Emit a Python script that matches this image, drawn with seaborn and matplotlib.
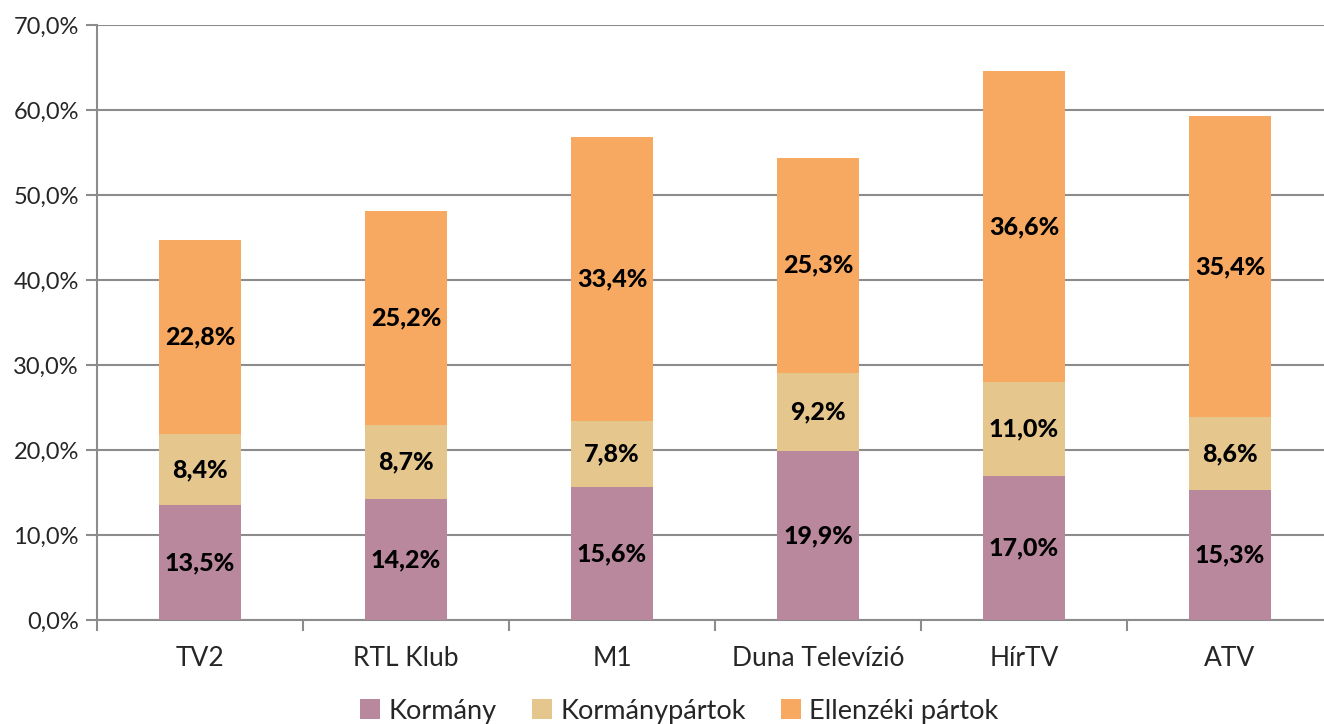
import matplotlib
matplotlib.use("Agg")
import matplotlib.pyplot as plt
import seaborn as sns
import pandas as pd
import numpy as np
from matplotlib.patches import Patch
from matplotlib.ticker import FuncFormatter, FixedLocator

categories = ["TV2", "RTL Klub", "M1", "Duna Televízió", "HírTV", "ATV"]
kormany = [13.5, 14.2, 15.6, 19.9, 17.0, 15.3]
kormanypartok = [8.4, 8.7, 7.8, 9.2, 11.0, 8.6]
ellenzeki = [22.8, 25.2, 33.4, 25.3, 36.6, 35.4]
series_names = ["Kormány", "Kormánypártok", "Ellenzéki pártok"]
colors = ["#BA889C", "#E5C68D", "#F7A961"]

sns.set_style("white")
plt.rcParams['font.family'] = ['Lato', 'DejaVu Sans']

df = pd.DataFrame({"cat": categories, "k": kormany, "kp": kormanypartok, "e": ellenzeki})
df["c1"] = df["k"]
df["c2"] = df["k"] + df["kp"]
df["c3"] = df["c2"] + df["e"]

fig = plt.figure(figsize=(13.24, 7.24), dpi=100)
ax = fig.add_axes([97/1324, 1-620/724, 1236/1324, 595/724])

for col, color in zip(["c3", "c2", "c1"], colors[::-1]):
    sns.barplot(data=df, x="cat", y=col, color=color, width=0.4, ax=ax,
                saturation=1, linewidth=0, zorder=3)

ax.set_ylim(0, 70)
ax.set_xlim(-0.5, 5.5)
ax.set_yticks(np.arange(0, 71, 10))
ax.yaxis.set_major_formatter(FuncFormatter(lambda v, p: f"{v:.1f}%".replace(".", ",")))
ax.grid(axis="y", color="#8c8c8c", linewidth=1.5, zorder=0)
ax.set_axisbelow(True)
for s in ["top", "right"]:
    ax.spines[s].set_visible(False)
for s in ["left", "bottom"]:
    ax.spines[s].set_color("#8c8c8c")
    ax.spines[s].set_linewidth(1.5)
ax.set_xlabel("")
ax.set_ylabel("")
ax.tick_params(axis="y", left=True, length=8, width=1.5, color="#8c8c8c", labelsize=17, pad=5)
ax.tick_params(axis="x", bottom=False, labelsize=19, pad=15)
ax.xaxis.set_minor_locator(FixedLocator(np.arange(-0.5, 6.0, 1.0)))
ax.tick_params(axis="x", which="minor", bottom=True, length=8, width=1.5, color="#8c8c8c")

def fmt(v):
    return f"{v:.1f}%".replace(".", ",")

for i in range(len(categories)):
    segs = [(0, kormany[i]), (df["c1"][i], kormanypartok[i]), (df["c2"][i], ellenzeki[i])]
    for base, val in segs:
        ax.text(i, base + val / 2, fmt(val), ha="center", va="center",
                fontsize=18, fontweight="black", color="black", zorder=5)

handles = [Patch(facecolor=c, edgecolor="none") for c in colors]
fig.legend(handles, series_names, loc="lower center", bbox_to_anchor=(0.513, -0.033),
           ncol=3, frameon=False, fontsize=19.5, handlelength=0.75, handleheight=0.75,
           handletextpad=0.3, columnspacing=1.3)

fig.savefig("out.png", dpi=100)
